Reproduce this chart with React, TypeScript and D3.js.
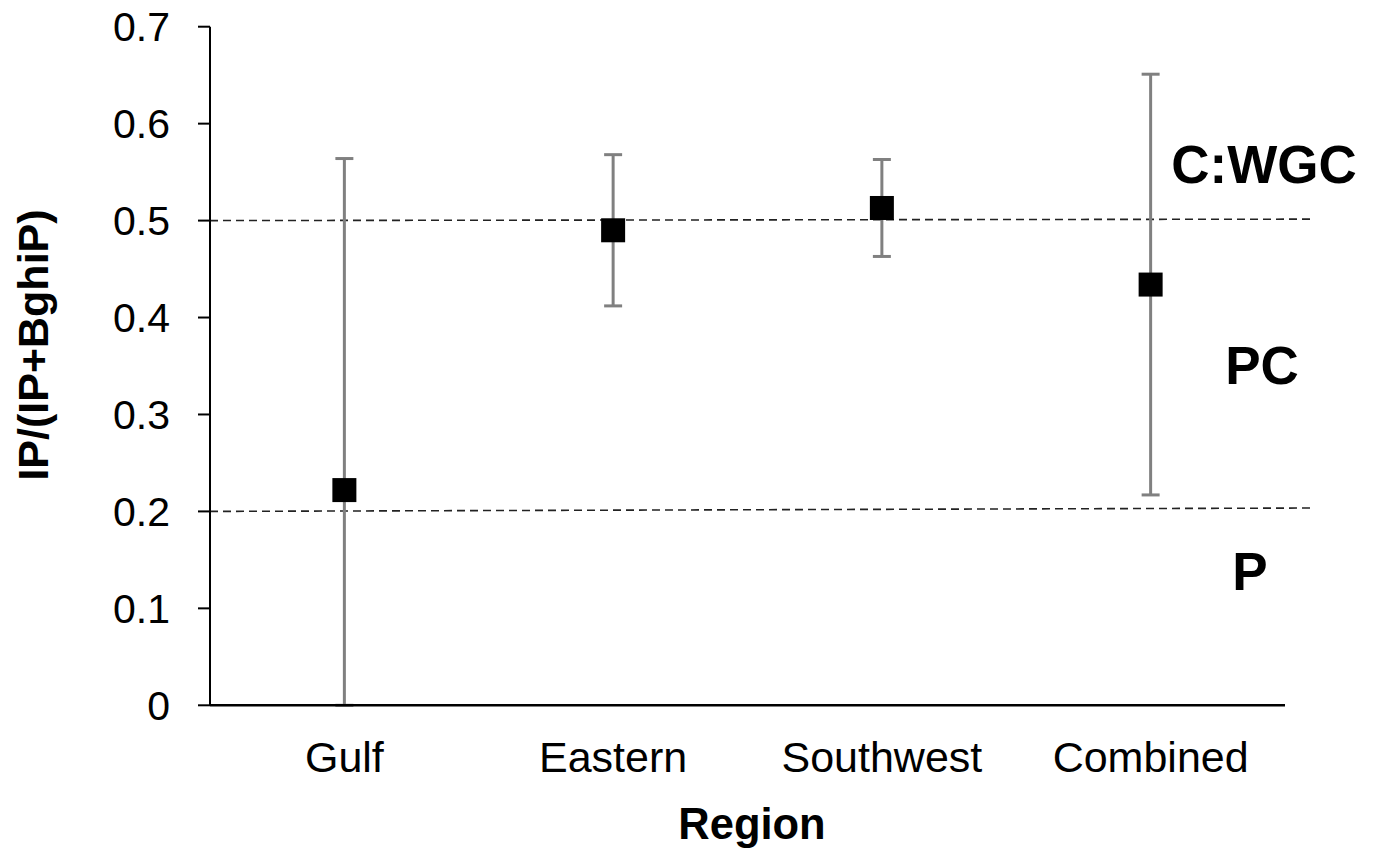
import React from "react";
import * as d3 from "d3";

const categories = ["Gulf", "Eastern", "Southwest", "Combined"];
const means = [0.222, 0.49, 0.513, 0.434];
const upper = [0.564, 0.568, 0.563, 0.651];
const lower = [0.0, 0.412, 0.463, 0.217];
const yTicks = [0, 0.1, 0.2, 0.3, 0.4, 0.5, 0.6, 0.7];
const yTickLabels = ["0", "0.1", "0.2", "0.3", "0.4", "0.5", "0.6", "0.7"];
const refStart = [0.5, 0.2];
const refEnd = [0.5015, 0.2035];
const zoneLabels = ["C:WGC", "PC", "P"];
const zoneLabelY = [0.558, 0.351, 0.139];
const zoneLabelX = [1264, 1262, 1250];

const W = 1378;
const H = 852;
const FONT = "'Liberation Sans', Arial, Helvetica, sans-serif";

export default function App() {
  const x = d3.scaleBand<string>().domain(categories).range([210, 1285]).padding(0);
  const y = d3.scaleLinear().domain([0, 0.7]).range([705.3, 26.7]);
  const cx = (c: string) => (x(c) as number) + x.bandwidth() / 2;
  const markerSize = 24;
  const capW = 18;
  const refX0 = x.range()[0];
  const refX1 = x.range()[1] + 25;

  return (
    <svg
      width={W}
      height={H}
      style={{ position: "absolute", left: 0, top: 0, background: "#fff" }}
      fontFamily={FONT}
    >
      <rect width={W} height={H} fill="#fff" />
      {refStart.map((v, i) => (
        <line
          key={"ref" + i}
          x1={refX0}
          x2={refX1}
          y1={y(v)}
          y2={y(refEnd[i])}
          stroke="#222"
          strokeWidth={1.6}
          strokeDasharray="8,5"
        />
      ))}
      {categories.map((c, i) => (
        <g key={"eb" + c} stroke="#808080" strokeWidth={3}>
          <line x1={cx(c)} x2={cx(c)} y1={y(upper[i])} y2={y(lower[i])} />
          <line x1={cx(c) - capW / 2} x2={cx(c) + capW / 2} y1={y(upper[i])} y2={y(upper[i])} />
          <line x1={cx(c) - capW / 2} x2={cx(c) + capW / 2} y1={y(lower[i])} y2={y(lower[i])} />
        </g>
      ))}
      {categories.map((c, i) => (
        <rect
          key={"m" + c}
          x={cx(c) - markerSize / 2}
          y={y(means[i]) - markerSize / 2}
          width={markerSize}
          height={markerSize}
          fill="#000"
        />
      ))}
      <line x1={210} x2={210} y1={y(0.7)} y2={y(0)} stroke="#000" strokeWidth={2} />
      <line x1={210} x2={1285} y1={y(0)} y2={y(0)} stroke="#000" strokeWidth={2.5} />
      {yTicks.map((t, i) => (
        <g key={"t" + i}>
          <line x1={198} x2={210} y1={y(t)} y2={y(t)} stroke="#000" strokeWidth={2} />
          <text x={170} y={y(t)} dy="0.36em" textAnchor="end" fontSize={41} fill="#000">
            {yTickLabels[i]}
          </text>
        </g>
      ))}
      {categories.map((c) => (
        <text key={"cl" + c} x={cx(c)} y={772} textAnchor="middle" fontSize={43} fill="#000">
          {c}
        </text>
      ))}
      <text x={752} y={839} textAnchor="middle" fontSize={43.5} fontWeight="bold" fill="#000">
        Region
      </text>
      <text
        transform={`translate(48,${345}) rotate(-90)`}
        textAnchor="middle"
        fontSize={43}
        fontWeight="bold"
        fill="#000"
      >
        IP/(IP+BghiP)
      </text>
      {zoneLabels.map((z, i) => (
        <text
          key={"z" + z}
          x={zoneLabelX[i]}
          y={y(zoneLabelY[i])}
          dy="0.36em"
          textAnchor="middle"
          fontSize={53}
          fontWeight="bold"
          fill="#000"
        >
          {z}
        </text>
      ))}
    </svg>
  );
}
